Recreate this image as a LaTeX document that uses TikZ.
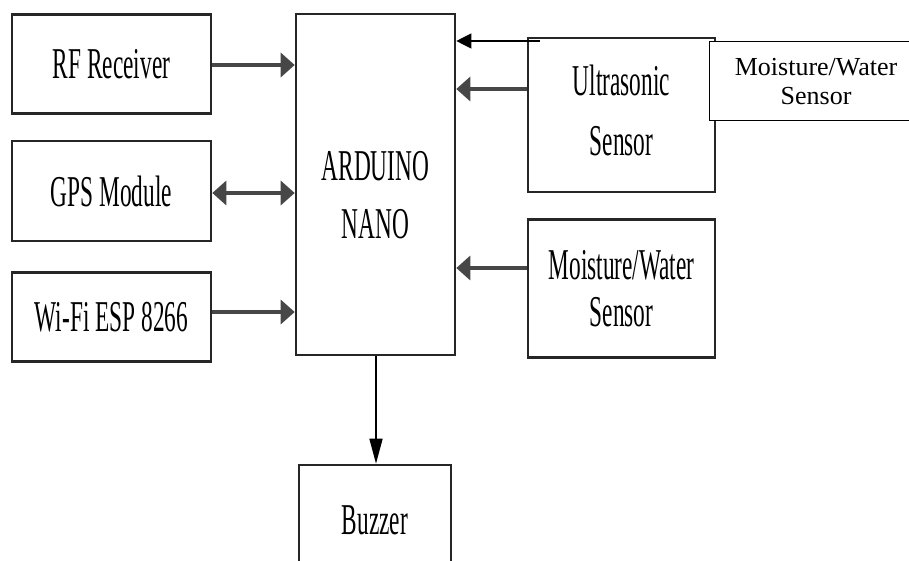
\documentclass[tikz,border=0pt]{standalone}
\usepackage{fontspec}
\setmainfont{Liberation Serif}
\newfontfamily\narrowfont[FakeStretch=0.53]{Liberation Serif}
\usetikzlibrary{positioning,arrows.meta}

\tikzset{
    block/.style={draw=black!85, line width=2.6pt, fill=white, align=center,
        inner sep=0pt, font=\narrowfont\fontsize{44}{47}\selectfont},
    thinblock/.style={draw=black, line width=1.2pt, fill=white, align=center,
        inner sep=0pt, font=\fontsize{26}{29}\selectfont},
    link/.style={draw=black!72, line width=3.4pt, -{Triangle[length=14pt,width=24pt]}},
    thinlink/.style={draw=black, line width=1.2pt, -{Triangle[length=15pt,width=15pt]}}}

\begin{document}
\begin{tikzpicture}[x=1pt, y=-1pt]
\useasboundingbox (0,0) rectangle (909,561);

\node[block, minimum width=159pt, minimum height=341pt] (nano) at (375.5,184.5) {\rule{0pt}{50pt}ARDUINO\\[11pt]NANO};

\node[block, minimum width=199pt, minimum height=99pt] (rf) at (111.5,64) {RF Receiver};
\node[block, minimum width=199pt, minimum height=100pt, below=25pt of rf] (gps) {GPS Module};
\node[block, minimum width=199pt, minimum height=89pt, below=29pt of gps] (wifi) {Wi-Fi ESP 8266};

\node[block, minimum width=187pt, minimum height=154pt] (ultra) at (621.5,115) {Ultrasonic\\[13pt]Sensor\rule[-9pt]{0pt}{9pt}};
\node[block, minimum width=187pt, minimum height=138pt, below=25pt of ultra.south east, anchor=north east] (moist) {Moisture/Water\\Sensor};

\node[block, minimum width=152pt, minimum height=110pt] (buzzer) at (375,520) {Buzzer};

% overlay box, runs off the right edge
\node[thinblock, minimum width=214pt, minimum height=79pt, anchor=north west] (moist2) at (708.5,41) {Moisture/Water\\Sensor};
\coordinate (start) at (540,41);

\draw[link] (rf.east |- 0,65) -- (nano.west |- 0,65);
\draw[link, {Triangle[length=14pt,width=24pt]}-{Triangle[length=14pt,width=24pt]}] (gps.east |- 0,193) -- (nano.west |- 0,193);
\draw[link] (wifi.east |- 0,312) -- (nano.west |- 0,312);
\draw[link] (ultra.west |- 0,89) -- (nano.east |- 0,89);
\draw[link] (moist.west |- 0,268) -- (nano.east |- 0,268);
\draw[thinlink] (start) -- (nano.east |- start);
\draw[thinlink, line width=1.6pt, -{Triangle[length=25pt,width=13pt]}] (nano.south -| 376,0) -- (buzzer.north -| 376,0);
\end{tikzpicture}
\end{document}
